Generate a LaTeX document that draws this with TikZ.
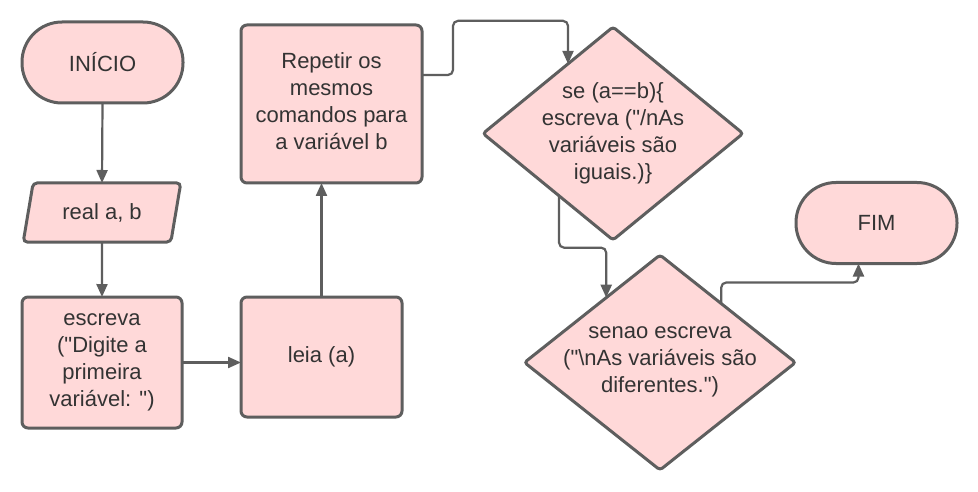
\documentclass[tikz,border=0pt]{standalone}
\usepackage{fontspec}
\setmainfont{Liberation Sans}
\usetikzlibrary{shapes.geometric,arrows.meta,calc}
\definecolor{fillpink}{HTML}{FFD9D9}
\definecolor{strokegray}{HTML}{5E5E5E}
\definecolor{txt}{HTML}{333333}
\newcommand{\qd}{\textquotedbl}
\tikzset{
  base/.style={draw=strokegray, fill=fillpink, line width=3pt, text=txt, align=center,
    font=\fontsize{22}{27}\selectfont, inner sep=0pt, outer sep=0pt},
  box/.style={base, rectangle, rounded corners=6pt},
  term/.style={base, rectangle, rounded corners=40pt, minimum width=161pt, minimum height=81pt},
  para/.style={base, trapezium, trapezium left angle=73, trapezium right angle=107,
    trapezium stretches=true, minimum width=159pt, minimum height=59pt, rounded corners=4pt},
  dia/.style={base, diamond, rounded corners=3pt},
  dtext/.style={text=txt, align=center, font=\fontsize{22}{27}\selectfont, inner sep=0pt},
  conn/.style={draw=strokegray, line width=2.2pt, rounded corners=5pt,
    -{Triangle[length=13pt,width=11pt]}}
}
\begin{document}
\begin{tikzpicture}[x=1pt,y=-1pt]
\useasboundingbox (0,0) rectangle (978,492);
\fill[white] (0,0) rectangle (978,492);
\node[term] (ini) at (102.5,62.5) {INÍCIO};
\node[para] (real) at (102,212.5) {real a, b};
\node[box, minimum width=160pt, minimum height=131pt] (esc) at (102,362.5) {escreva\\(\qd Digite a\\primeira\\variável: \qd)};
\node[box, minimum width=161pt, minimum height=120pt] (leia) at (321.5,357) {leia (a)};
\node[box, minimum width=181pt, minimum height=158pt] (rep) at (331.5,104) {};
\node[dtext] (rept) at (331.5,101) {Repetir os\\mesmos\\comandos para\\a variável b};
\node[dia, minimum width=260pt, minimum height=213pt] (d1) at (613,133.5) {};
\node[dtext] (d1t) at (613,133) {se (a==b)\{\\escreva (\qd/nAs\\variáveis são\\iguais.)\}};
\node[dia, minimum width=271pt, minimum height=215pt] (d2) at (660,362.5) {};
\node[dtext] (d2t) at (660,362) {senao escreva\\(\qd\textbackslash nAs variáveis são\\diferentes.\qd)};
\node[term] (fim) at (876.5,223) {FIM};

\draw[conn] (ini.south) -- (real.north);
\draw[conn] (real.south) -- (esc.north);
\draw[conn] (esc.east) -- (esc.east -| leia.west);
\draw[conn] (leia.north) -- (leia.north |- rep.south);

\coordinate (repout) at ($(rep.east)+(0,-29)$);
\coordinate (d1in) at ($(d1.west)!0.654!(d1.north)$);
\draw[conn] (repout) -- ++(31,0) |- ($(d1in)+(0,-43)$) -- (d1in);

\coordinate (d1out) at ($(d1.west)!0.585!(d1.south)$);
\coordinate (d2in) at ($(d2.west)!0.603!(d2.north)$);
\draw[conn] (d1out) |- ($(d2in)+(0,-50)$) -- (d2in);

\coordinate (d2out) at ($(d2.north)!0.452!(d2.east)$);
\coordinate (fimin) at ($(fim.south)+(-18,0)$);
\draw[conn] (d2out) |- ($(fimin)+(0,19)$) -- (fimin);
\end{tikzpicture}
\end{document}
